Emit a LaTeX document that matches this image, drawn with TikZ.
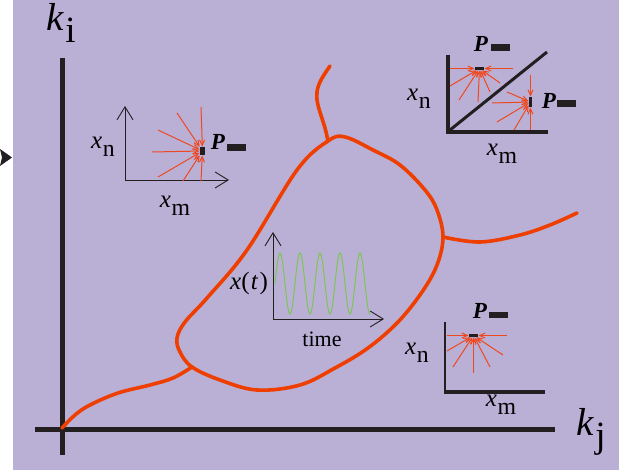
\documentclass[tikz,border=0pt]{standalone}
\usepackage{fontspec}
\setmainfont{Liberation Serif}
\usepackage{graphicx}
\usetikzlibrary{arrows.meta,calc}
\definecolor{lav}{RGB}{186,176,214}
\definecolor{curvec}{RGB}{238,62,0}
\definecolor{arrc}{RGB}{240,72,30}
\definecolor{wavec}{RGB}{118,200,70}
\definecolor{ink}{RGB}{35,31,32}
\newcommand{\sv}[2]{\textit{#1}\kern0.03em\raisebox{-0.32em}{\scalebox{0.95}{#2}}}
\tikzset{
  redline/.style={curvec, line width=3.6pt, line cap=round, line join=round},
  thinaxis/.style={ink, line width=0.9pt, -{Straight Barb[length=13pt,width=16pt,line width=0.9pt]}},
  thickaxis/.style={ink, line width=3.6pt},
  ray/.style={arrc, line width=1pt, -{Straight Barb[length=5.5pt,width=5pt,line width=1pt]}, shorten >=0.5pt},
  target/.style={fill=ink, inner sep=0pt, outer sep=0pt},
  lbl/.style={inner sep=0pt, font=\fontsize{25}{25}\selectfont},
  biglbl/.style={inner sep=0pt, font=\fontsize{39}{39}\selectfont},
  plbl/.style={inner sep=0pt, font=\fontsize{23}{23}\selectfont\bfseries\itshape},
  pbar/.style={fill=ink, inner sep=0pt, minimum width=19pt, minimum height=6.5pt},
}
\begin{document}
\begin{tikzpicture}[x=1pt,y=-1pt]
\useasboundingbox (0,0) rectangle (619,470);
\fill[white] (0,0) rectangle (13,470);
\fill[lav] (13,0) rectangle (619,470);
\fill[ink] (0,149) -- (12,157.5) -- (0,166) -- (2,157.5) -- cycle;

% main axes
\coordinate (O) at (62,430);
\coordinate (Itop) at (62,58);
\coordinate (Ibot) at (62,455);
\coordinate (Jl) at (35,430);
\coordinate (Jr) at (555,430);
\draw[ink, line width=5pt] (Itop) -- (Ibot);
\draw[ink, line width=5pt] (Jl) -- (Jr);
\node[biglbl] (ki) at (61,23) {\sv{k}{i}};
\node[biglbl] (kj) at (591,432) {\sv{k}{j}};

% red curves
\draw[redline] plot[smooth cycle, tension=0.6] coordinates {(328,141) (345,137) (373,150) (400,165) (425,190) (437,210) (443,237) (437,265) (422,292) (398,322) (368,348) (335,368) (300,385) (257,390) (220,380) (192,367) (180,352) (177,338) (185,322) (207,298) (247,250) (297,170)};
\draw[redline] plot[smooth, tension=0.6] coordinates {(328,141) (325,128) (318,105) (317,92) (321,80) (330,66)};
\draw[redline] plot[smooth, tension=0.6] coordinates {(443,237) (480,242) (520,235) (550,225) (577,213)};
\draw[redline] plot[smooth, tension=0.6] coordinates {(192,367) (173,378) (150,385) (118,393) (90,405) (75,415) (62,428)};

% top-left inset
\coordinate (a1) at (125,180);
\coordinate (a1y) at (125,106);
\coordinate (a1x) at (229,180);
\draw[thinaxis] (a1) -- (a1y);
\draw[thinaxis] (a1) -- (a1x);
\node[lbl] (xn1) at (103,147) {\sv{x}{n}};
\node[lbl] (xm1) at (175,206) {\sv{x}{m}};
\node[target, minimum width=5pt, minimum height=8pt] (t1) at (202.5,151) {};
\node[plbl] (P1) at (218,142) {P};
\node[pbar] (P1b) at (236.5,147.5) {};
\foreach \p in {(201,107),(177,113),(158,130),(152,152),(158,177),(183,181),(201,181)}
  \draw[ray] \p -- (t1);

% top-right inset
\coordinate (a2y) at (448,55);
\coordinate (a2) at (448,132);
\coordinate (a2x) at (548,132);
\coordinate (d1) at (450,130);
\coordinate (d2) at (547,52);
\draw[thickaxis] (a2y) -- (a2) -- (a2x);
\draw[ink, line width=3pt] (d1) -- (d2);
\node[lbl] (xn2) at (419,99) {\sv{x}{n}};
\node[lbl] (xm2) at (502,154) {\sv{x}{m}};
\node[target, minimum width=9pt, minimum height=3pt] (t2) at (479.5,68.5) {};
\node[target, minimum width=3pt, minimum height=10pt] (t3) at (530.5,102) {};
\node[plbl] (P2) at (481,44) {P};
\node[pbar] (P2b) at (500.5,47.5) {};
\node[plbl] (P3) at (549,101) {P};
\node[pbar] (P3b) at (566.5,103.5) {};
\foreach \p in {(450,68.5),(513,68.5),(450,86),(459,100),(478,102),(490,92),(500,83)}
  \draw[ray] \p -- (t2);
\foreach \p in {(530.5,75),(507,92),(492,103),(497,122),(514,130),(530.5,130)}
  \draw[ray] \p -- (t3);

% bottom-right inset
\coordinate (a3y) at (445,322);
\coordinate (a3) at (445,392);
\coordinate (a3x) at (545,392);
\draw[ink, line width=1.5pt] (a3y) -- (a3);
\draw[ink, line width=4pt] ($(a3)+(-1,0)$) -- (a3x);
\node[lbl] (xn3) at (417,353) {\sv{x}{n}};
\node[lbl] (xm3) at (501,405) {\sv{x}{m}};
\node[target, minimum width=9pt, minimum height=3pt] (t4) at (473.5,335.5) {};
\node[plbl] (P4) at (480,311) {P};
\node[pbar] (P4b) at (498.5,315) {};
\foreach \p in {(447,335.5),(507,335.5),(447,351),(453,367),(473.5,373),(490,367),(503,355)}
  \draw[ray] \p -- (t4);

% centre inset
\coordinate (a4) at (273,319);
\coordinate (a4y) at (273,232);
\coordinate (a4x) at (384,319);
\draw[thinaxis] (a4) -- (a4y);
\draw[thinaxis] (a4) -- (a4x);
\draw[wavec, line width=0.9pt] plot[domain=275:370, samples=300, smooth] (\x, {283.5 - 30.5*cos(18*(\x-280))});
\node[lbl] (xt) at (249,283) {\textit{x}(\kern0.05em\textit{t}\kern0.05em)};
\node[inner sep=0pt, font=\fontsize{22}{22}\selectfont] (time) at (322,339) {time};
\end{tikzpicture}
\end{document}
